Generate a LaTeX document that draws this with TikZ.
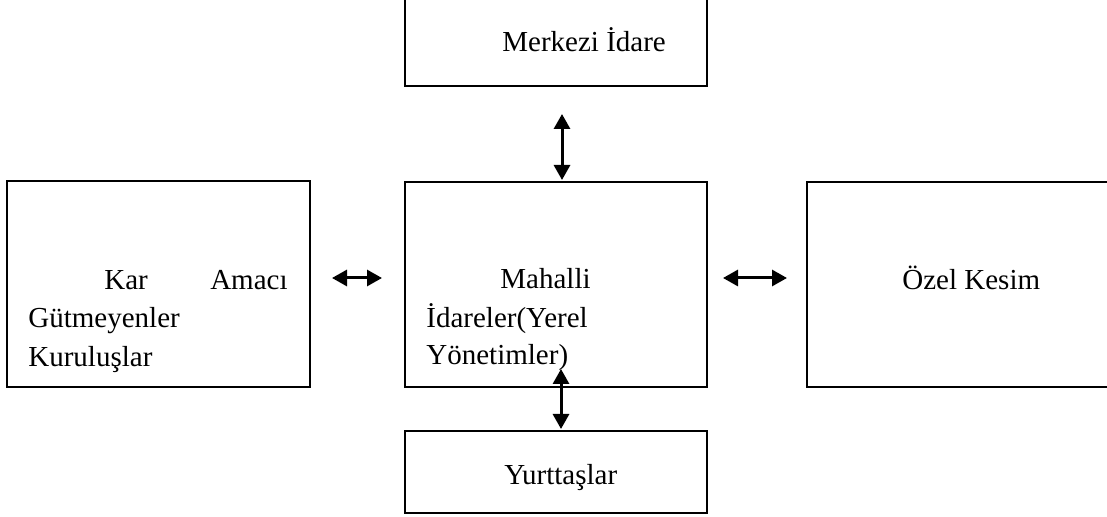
\documentclass[tikz,border=0pt]{standalone}
\usepackage{fontspec}
\setmainfont{Liberation Serif}
\usetikzlibrary{arrows.meta}

\tikzset{
    kutu/.style={draw, line width=1pt, inner sep=0pt, outer sep=0pt},
    yazi/.style={inner sep=0pt, anchor=base west, font=\fontsize{14.5pt}{19pt}\selectfont},
    ok/.style={line width=1.5pt, arrows={Triangle[width=8pt,length=7.5pt]-Triangle[width=8pt,length=7.5pt]}}
}

\begin{document}
\begin{tikzpicture}[x=0.5pt, y=-0.5pt]
    \useasboundingbox (0,0) rectangle (1107,517);
    \clip (0,0) rectangle (1107,517);

    \node [kutu, minimum width=151pt, minimum height=48pt] (merkez) at (556,38) {};
    \node [kutu, minimum width=151pt, minimum height=102.5pt] (mahalli) at (556,284.5) {};
    \node [kutu, minimum width=151.5pt, minimum height=103pt] (kar) at (158.5,284) {};
    \node [kutu, minimum width=152.5pt, minimum height=102.5pt] (ozel) at (959.5,284.5) {};
    \node [kutu, minimum width=151pt, minimum height=41pt] (yurt) at (556,472) {};

    \node [yazi] (tmerkez) at (502,52) {Merkezi İdare};

    \node [yazi] (tkar) at (104,290) {Kar};
    \node [yazi, anchor=base east] (tamac) at (288,290) {Amacı};
    \node [yazi] (tgut) at (28,328) {Gütmeyenler};
    \node [yazi] (tkur) at (28,367) {Kuruluşlar};

    \node [yazi] (tmah) at (500,289) {Mahalli};
    \node [yazi] (tida) at (426,328) {İdareler(Yerel};
    \node [yazi] (tyon) at (426,365) {Yönetimler)};

    \node [yazi] (tozel) at (902,290) {Özel Kesim};
    \node [yazi] (tyurt) at (504,485) {Yurttaşlar};

    % oklar
    \draw [ok] ([shift={(6,28)}]merkez.south) -- ([shift={(6,-2)}]mahalli.north);
    \draw [ok] ([shift={(5,-18)}]mahalli.south) -- ([shift={(5,-2)}]yurt.north);
    \draw [ok] ([shift={(22,-6)}]kar.east) -- ([shift={(-23,-6.5)}]mahalli.west);
    \draw [ok] ([shift={(16,-6.5)}]mahalli.east) -- ([shift={(-20,-6.5)}]ozel.west);
\end{tikzpicture}
\end{document}
